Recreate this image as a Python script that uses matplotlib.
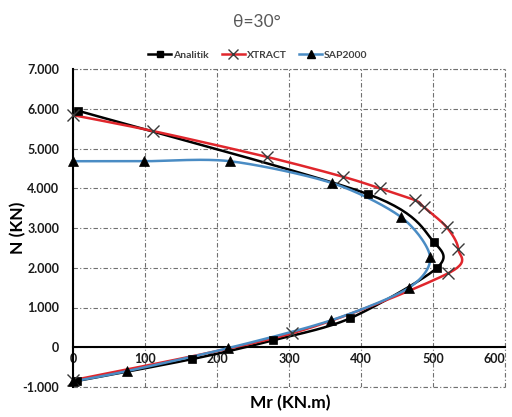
import numpy as np
import matplotlib
matplotlib.use("Agg")
import matplotlib.pyplot as plt
from matplotlib.lines import Line2D

# Data (Mr in KN.m, N in KN)
analitik_m = [7, 410, 501, 505, 385, 278, 165, 5]
analitik_n = [5950, 3850, 2650, 1990, 730, 175, -300, -850]

xtract_m = [0, 111, 269, 375, 426, 475, 487, 519, 535, 521, 304, 0]
xtract_n = [5840, 5440, 4790, 4290, 4000, 3700, 3530, 3020, 2470, 1860, 350, -830]

sap_m = [0, 99, 218, 360, 456, 496, 466, 359, 215, 75, 0]
sap_n = [4680, 4680, 4680, 4130, 3270, 2270, 1490, 680, -25, -600, -860]

x_ticks = [0, 100, 200, 300, 400, 500, 600]
y_ticks = [-1000, 0, 1000, 2000, 3000, 4000, 5000, 6000, 7000]
y_tick_labels = ["-1.000", "0", "1.000", "2.000", "3.000", "4.000", "5.000", "6.000", "7.000"]


def smooth(xs, ys, n=30, k=6.0):
    """Excel-like smoothed line (cubic Bezier with Catmull-Rom handles)."""
    P = np.column_stack([xs, ys]).astype(float)
    out = []
    for i in range(len(P) - 1):
        p0 = P[i - 1] if i > 0 else P[i]
        p1 = P[i]
        p2 = P[i + 1]
        p3 = P[i + 2] if i + 2 < len(P) else P[i + 1]
        c1 = p1 + (p2 - p0) / k
        c2 = p2 - (p3 - p1) / k
        t = np.linspace(0, 1, n)[:, None]
        seg = ((1 - t) ** 3) * p1 + 3 * ((1 - t) ** 2) * t * c1 + 3 * (1 - t) * t ** 2 * c2 + t ** 3 * p2
        out.append(seg if i == 0 else seg[1:])
    S = np.vstack(out)
    return S[:, 0], S[:, 1]


plt.rcParams['font.family'] = ['Lato', 'DejaVu Sans']

fig = plt.figure(figsize=(5.12, 4.17), dpi=100)
ax = fig.add_axes([73 / 512, 1 - 387 / 417, 432 / 512, 318 / 417])

black = "#000000"
red = "#e0262c"
blue = "#4a8cc4"
grid_col = "#707070"
dashdot = (0, (4, 2, 1, 2))

series = [
    (analitik_m, analitik_n, black, "s", 6, "Analitik", black),
    (xtract_m, xtract_n, red, "x", 8, "XTRACT", "#3a3a3a"),
    (sap_m, sap_n, blue, "^", 7, "SAP2000", black),
]

handles = []
for i, (mx, ny, col, mk, ms, lab, mcol) in enumerate(series):
    sx, sy = smooth(mx, ny, k=7.0)
    ax.plot(sx, sy, color=col, lw=1.8, zorder=3 + i, solid_capstyle='round', clip_on=False)
    ax.plot(mx, ny, linestyle="none", marker=mk, markersize=ms, color=mcol,
            markeredgewidth=1.0 if mk == "x" else 0.5, zorder=6 + i, clip_on=False)
    handles.append(Line2D([0], [0], color=col, lw=1.8, marker=mk, markersize=ms - 1,
                          markerfacecolor=mcol, markeredgecolor=mcol, label=lab))

ax.set_xlim(0, 600)
ax.set_ylim(-1000, 7000)
ax.set_xticks(x_ticks)
ax.set_yticks(y_ticks)
ax.set_yticklabels(y_tick_labels)

ax.grid(True, color=grid_col, linestyle=dashdot, linewidth=0.8)
ax.set_axisbelow(True)

for s in ["top", "right"]:
    ax.spines[s].set_visible(False)
ax.spines['bottom'].set_position(('data', 0))
ax.spines['bottom'].set_linewidth(1.5)
ax.spines['left'].set_linewidth(1.5)
ax.spines['bottom'].set_zorder(2)
# border grid lines at limits
ax.axhline(-1000, color=grid_col, linestyle=dashdot, linewidth=0.8, clip_on=False, zorder=1)
ax.axhline(7000, color=grid_col, linestyle=dashdot, linewidth=0.8, clip_on=False, zorder=1)
ax.axvline(600, color=grid_col, linestyle=dashdot, linewidth=0.8, clip_on=False, zorder=1)

ax.tick_params(axis='both', length=0, labelsize=9)
ax.tick_params(axis='y', pad=10)
ax.tick_params(axis='x', pad=4)
for lbl in ax.get_xticklabels() + ax.get_yticklabels():
    lbl.set_fontweight('bold')
    lbl.set_color('#1a1a1a')
ax.get_xticklabels()[-1].set_horizontalalignment('right')
ax.get_xticklabels()[-1].set_x(600)

fig.text(290 / 512, 1 - 403 / 417, "Mr (KN.m)", ha='center', va='center',
         fontsize=12.5, fontweight='bold')
fig.text(18 / 512, 1 - 228 / 417, "N (KN)", ha='center', va='center', rotation=90,
         fontsize=12.5, fontweight='bold')

fig.text(0.502, 1 - 22 / 417, "θ=30°", ha='center', va='center', fontsize=12.5,
         color='#595959')

fig.legend(handles=handles, loc='center', bbox_to_anchor=(258 / 512, 1 - 55 / 417), ncol=3,
           frameon=False, handlelength=2.2, columnspacing=1.2, handletextpad=0.2,
           prop={'weight': 'bold', 'size': 7.5})
for t in fig.legends[0].get_texts():
    t.set_color('#404040')

fig.savefig("out.png", dpi=100)
